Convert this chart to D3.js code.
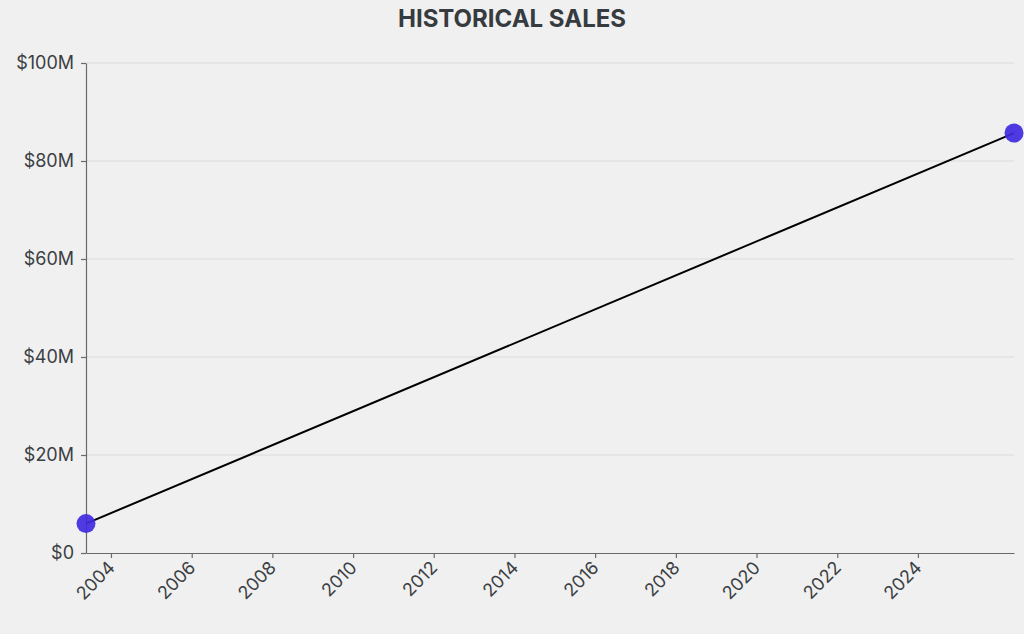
<!DOCTYPE html>
<html>
<head>
<meta charset="utf-8">
<script src="https://cdn.jsdelivr.net/npm/d3@7"></script>
<style>
  body { margin: 0; background: #f0f0f0; font-family: Inter, "Noto Sans", sans-serif; }
</style>
</head>
<body>
<div id="chart"></div>
<script>
// Daten
const dates = ["2003-05-20", "2026-05-20"];
const sales = [6.0e6, 85.7e6];
const yTicks = [0, 20e6, 40e6, 60e6, 80e6, 100e6];
const xTickYears = [2004, 2006, 2008, 2010, 2012, 2014, 2016, 2018, 2020, 2022, 2024];

const data = dates.map((d, i) => ({date: d3.timeParse("%Y-%m-%d")(d), value: sales[i]}));

// Konfiguration
const W = 1024, H = 634;
const margin = {top: 63, right: 10, bottom: 81, left: 86};
const width = W - margin.left - margin.right;
const height = H - margin.top - margin.bottom;

const root = d3.select("#chart").append("svg")
    .attr("width", W)
    .attr("height", H);

root.append("text")
    .attr("x", W / 2)
    .attr("y", 27)
    .attr("text-anchor", "middle")
    .attr("font-size", "24px")
    .attr("font-weight", "bold")
    .attr("fill", "#363b3f")
    .text("HISTORICAL SALES");

const svg = root.append("g")
    .attr("transform", `translate(${margin.left},${margin.top})`);

// Skalen
const x = d3.scaleTime()
    .domain(d3.extent(data, d => d.date))
    .range([0, width]);

const y = d3.scaleLinear()
    .domain([0, 100e6])
    .range([height, 0]);

// Gitterlinien
svg.append("g")
    .selectAll("line")
    .data(yTicks.slice(1))
    .join("line")
    .attr("x1", 0)
    .attr("x2", width)
    .attr("y1", d => y(d))
    .attr("y2", d => y(d))
    .attr("stroke", "#e2e2e2")
    .attr("stroke-width", 1.5);

// X-Achse
const xAxis = svg.append("g")
    .attr("transform", `translate(0,${height})`)
    .call(d3.axisBottom(x)
        .tickValues(xTickYears.map(yr => new Date(yr, 0, 1)))
        .tickFormat(d3.timeFormat("%Y"))
        .tickSize(5)
        .tickSizeOuter(0));
xAxis.selectAll("text")
    .attr("transform", "rotate(-45)")
    .attr("dx", "-0.45em")
    .attr("dy", "0.35em")
    .style("text-anchor", "end");

// Y-Achse
const yAxis = svg.append("g")
    .call(d3.axisLeft(y)
        .tickValues(yTicks)
        .tickFormat(d => d === 0 ? "$0" : "$" + d / 1e6 + "M")
        .tickSize(5)
        .tickPadding(7)
        .tickSizeOuter(0));

[xAxis, yAxis].forEach(a => {
    a.select(".domain").attr("stroke", "#6a6a6a").attr("stroke-width", 1.2);
    a.selectAll(".tick line").attr("stroke", "#6a6a6a").attr("stroke-width", 1.2);
    a.selectAll("text").attr("font-size", "18px").attr("font-family", "Inter, sans-serif").attr("fill", "#3b3f43");
});

// Linie
svg.append("path")
    .datum(data)
    .attr("fill", "none")
    .attr("stroke", "#000")
    .attr("stroke-width", 2)
    .attr("d", d3.line().x(d => x(d.date)).y(d => y(d.value)));

// Punkte
svg.selectAll(".dot")
    .data(data)
    .join("circle")
    .attr("class", "dot")
    .attr("cx", d => x(d.date))
    .attr("cy", d => y(d.value))
    .attr("r", 9.5)
    .attr("fill", "#3f2ae0")
    .attr("fill-opacity", 0.92);
</script>
</body>
</html>
